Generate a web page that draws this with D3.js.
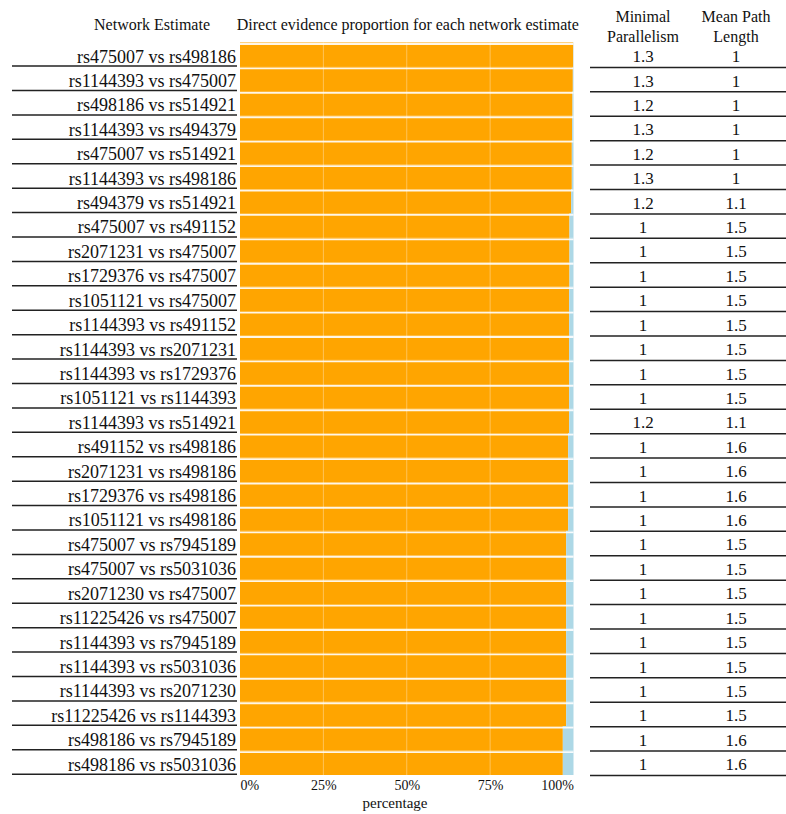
<!DOCTYPE html>
<html>
<head>
<meta charset="utf-8">
<script src="https://cdn.jsdelivr.net/npm/d3@7"></script>
<style>
  body { margin: 0; background: #fff; }
  svg text { font-family: "Liberation Serif", "DejaVu Serif", serif; fill: #111; }
</style>
</head>
<body>
<svg id="chart" width="786" height="814"></svg>
<script>
// DATA
const comparisons = [
  "rs475007 vs rs498186", "rs1144393 vs rs475007", "rs498186 vs rs514921",
  "rs1144393 vs rs494379", "rs475007 vs rs514921", "rs1144393 vs rs498186",
  "rs494379 vs rs514921", "rs475007 vs rs491152", "rs2071231 vs rs475007",
  "rs1729376 vs rs475007", "rs1051121 vs rs475007", "rs1144393 vs rs491152",
  "rs1144393 vs rs2071231", "rs1144393 vs rs1729376", "rs1051121 vs rs1144393",
  "rs1144393 vs rs514921", "rs491152 vs rs498186", "rs2071231 vs rs498186",
  "rs1729376 vs rs498186", "rs1051121 vs rs498186", "rs475007 vs rs7945189",
  "rs475007 vs rs5031036", "rs2071230 vs rs475007", "rs11225426 vs rs475007",
  "rs1144393 vs rs7945189", "rs1144393 vs rs5031036", "rs1144393 vs rs2071230",
  "rs11225426 vs rs1144393", "rs498186 vs rs7945189", "rs498186 vs rs5031036"
];

// direct evidence proportion (%), remainder is indirect
const directProp = [
  99.9, 99.8, 99.7, 99.6, 99.5, 99.5, 99.3, 98.8, 98.8, 98.8,
  98.7, 98.7, 98.7, 98.7, 98.7, 98.7, 98.4, 98.4, 98.4, 98.4,
  97.8, 97.8, 97.8, 97.8, 97.8, 97.8, 97.8, 97.8, 96.8, 96.8
];

const minimalParallelism = [
  "1.3", "1.3", "1.2", "1.3", "1.2", "1.3", "1.2", "1", "1", "1",
  "1", "1", "1", "1", "1", "1.2", "1", "1", "1", "1",
  "1", "1", "1", "1", "1", "1", "1", "1", "1", "1"
];

const meanPathLength = [
  "1", "1", "1", "1", "1", "1", "1.1", "1.5", "1.5", "1.5",
  "1.5", "1.5", "1.5", "1.5", "1.5", "1.1", "1.6", "1.6", "1.6", "1.6",
  "1.5", "1.5", "1.5", "1.5", "1.5", "1.5", "1.5", "1.5", "1.6", "1.6"
];

const xTicks = [0, 25, 50, 75, 100];

// CANVAS SETUP
const svg = d3.select("#chart");
const panel = { left: 240, right: 573.5, top: 42.5, bottom: 775 };

const data = comparisons.map((c, i) => ({
  comp: c,
  direct: directProp[i],
  indirect: 100 - directProp[i],
  mp: minimalParallelism[i],
  mpl: meanPathLength[i],
}));

const xScale = d3.scaleLinear().domain([0, 100]).range([panel.left, panel.right]);
const yScale = d3.scaleBand().domain(comparisons).range([panel.top, panel.bottom]).padding(0);
const bw = yScale.bandwidth();

// HEADERS
svg.append("text").attr("x", 210).attr("y", 30).attr("text-anchor", "end")
  .style("font-size", "16px").text("Network Estimate");
svg.append("text").attr("x", (panel.left + panel.right) / 2 + 1).attr("y", 30).attr("text-anchor", "middle")
  .style("font-size", "16px").text("Direct evidence proportion for each network estimate");
const col1 = 643, col2 = 736;
[["Minimal", "Parallelism", col1], ["Mean Path", "Length", col2]].forEach(([a, b, x]) => {
  svg.append("text").attr("x", x).attr("y", 22).attr("text-anchor", "middle").style("font-size", "16px").text(a);
  svg.append("text").attr("x", x).attr("y", 42).attr("text-anchor", "middle").style("font-size", "16px").text(b);
});

// BARS
const gBars = svg.append("g");
gBars.selectAll("rect.direct").data(data).join("rect")
  .attr("class", "direct")
  .attr("x", xScale(0))
  .attr("y", (d) => yScale(d.comp))
  .attr("width", (d) => xScale(d.direct) - xScale(0))
  .attr("height", bw)
  .attr("fill", "#FFA500");
gBars.selectAll("rect.indirect").data(data).join("rect")
  .attr("class", "indirect")
  .attr("x", (d) => xScale(d.direct))
  .attr("y", (d) => yScale(d.comp))
  .attr("width", (d) => xScale(100) - xScale(d.direct))
  .attr("height", bw)
  .attr("fill", "#ADD8E6");

// gridlines over bars (faint)
gBars.selectAll("line.grid").data(xTicks.slice(1, 4)).join("line")
  .attr("x1", (d) => xScale(d)).attr("x2", (d) => xScale(d))
  .attr("y1", panel.top).attr("y2", panel.bottom)
  .attr("stroke", "#fff").attr("stroke-opacity", 0.35).attr("stroke-width", 1);

// white separators between rows
gBars.selectAll("line.sep").data(data).join("line")
  .attr("x1", panel.left).attr("x2", panel.right)
  .attr("y1", (d) => yScale(d.comp) + 1.5).attr("y2", (d) => yScale(d.comp) + 1.5)
  .attr("stroke", "#fff").attr("stroke-opacity", 0.9).attr("stroke-width", 1.8);

// X AXIS
const gx = svg.append("g").attr("transform", `translate(0,${panel.bottom})`)
  .call(d3.axisBottom(xScale).tickValues(xTicks).tickFormat((d) => d + "%").tickSize(0).tickPadding(5));
gx.select(".domain").remove();
gx.selectAll("text")
  .style("font-family", "Liberation Serif, serif")
  .style("font-size", "14px")
  .attr("fill", "#222")
  .attr("text-anchor", (d) => (d === 0 ? "start" : d === 100 ? "end" : "middle"));
svg.append("text").attr("x", 395).attr("y", 808).attr("text-anchor", "middle")
  .style("font-size", "15px").text("percentage");

// LEFT TABLE
const gLeft = svg.append("g");
gLeft.selectAll("text").data(data).join("text")
  .attr("x", 236).attr("y", (d) => yScale(d.comp) + bw / 2 + 1.5)
  .attr("dy", "0.35em").attr("text-anchor", "end")
  .style("font-size", "18px").text((d) => d.comp);
gLeft.selectAll("line").data(data).join("line")
  .attr("x1", 12).attr("x2", 237)
  .attr("y1", (d) => yScale(d.comp) + bw - 0.8).attr("y2", (d) => yScale(d.comp) + bw - 0.8)
  .attr("stroke", "#222").attr("stroke-width", 1.5);

// RIGHT TABLE
const gRight = svg.append("g");
gRight.selectAll("text.mp").data(data).join("text").attr("class", "mp")
  .attr("x", col1).attr("y", (d) => yScale(d.comp) + bw / 2 + 1.5)
  .attr("dy", "0.35em").attr("text-anchor", "middle")
  .style("font-size", "17px").text((d) => d.mp);
gRight.selectAll("text.mpl").data(data).join("text").attr("class", "mpl")
  .attr("x", col2).attr("y", (d) => yScale(d.comp) + bw / 2 + 1.5)
  .attr("dy", "0.35em").attr("text-anchor", "middle")
  .style("font-size", "17px").text((d) => d.mpl);
gRight.selectAll("line").data(data).join("line")
  .attr("x1", 590).attr("x2", 786)
  .attr("y1", (d) => yScale(d.comp) + bw + 0.5).attr("y2", (d) => yScale(d.comp) + bw + 0.5)
  .attr("stroke", "#222").attr("stroke-width", 1.5);
</script>
</body>
</html>
